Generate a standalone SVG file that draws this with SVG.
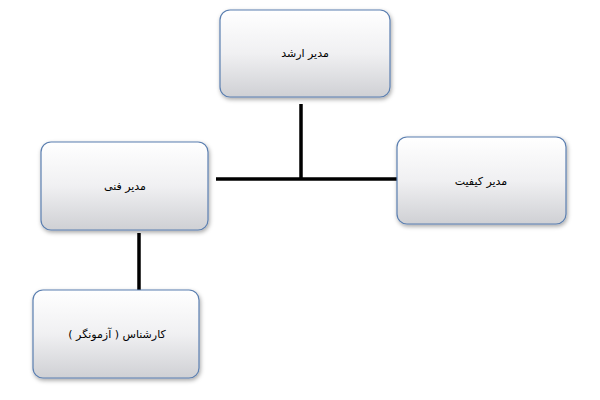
<svg xmlns="http://www.w3.org/2000/svg" width="600" height="400" viewBox="0 0 600 400">
<defs>
<linearGradient id="g" x1="0" y1="0" x2="0" y2="1">
<stop offset="0" stop-color="#ffffff"/><stop offset="0.5" stop-color="#f0f0f2"/><stop offset="1" stop-color="#cfd0d4"/>
</linearGradient>
<filter id="s" x="-10%" y="-10%" width="130%" height="130%"><feDropShadow dx="1" dy="2" stdDeviation="2" flood-color="#000" flood-opacity="0.35"/></filter>
</defs>
<style>
.b{fill:url(#g);stroke:#5b7fb0;stroke-width:1.2;filter:url(#s)}
.t{font-family:"DejaVu Sans","Noto Sans",sans-serif;font-size:11px;fill:#000;text-anchor:middle}
.c{stroke:#000;stroke-width:3.5;fill:none}
</style>
<rect width="600" height="400" fill="#fff"/>
<g id="connectors">
<line class="c" x1="301" y1="104" x2="301" y2="179"/>
<line class="c" x1="216" y1="179" x2="397" y2="179"/>
<line class="c" x1="139" y1="233" x2="139" y2="290"/>
</g>
<g id="n1"><rect class="b" x="220" y="10" width="170" height="87" rx="10"/><text class="t" x="305" y="57">مدیر ارشد</text></g>
<g id="n2"><rect class="b" x="41" y="142" width="167" height="88" rx="10"/><text class="t" x="125" y="190">مدیر فنی</text></g>
<g id="n3"><rect class="b" x="397" y="137" width="169" height="87" rx="10"/><text class="t" x="481" y="185">مدیر کیفیت</text></g>
<g id="n4"><rect class="b" x="33" y="290" width="166" height="88" rx="10"/><text class="t" x="117" y="338">کارشناس ( آزمونگر )</text></g>
</svg>
